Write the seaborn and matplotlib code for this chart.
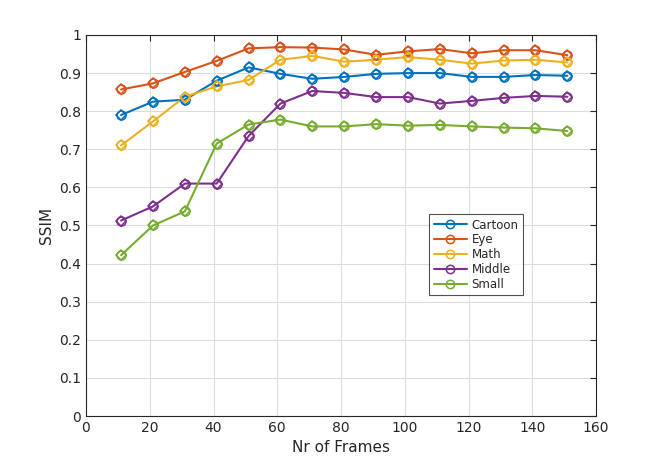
import matplotlib
matplotlib.use("Agg")
import matplotlib.pyplot as plt
import numpy as np
import pandas as pd
import seaborn as sns
from matplotlib.lines import Line2D

frames = [11, 21, 31, 41, 51, 61, 71, 81, 91, 101, 111, 121, 131, 141, 151]
cartoon = [0.79, 0.825, 0.83, 0.88, 0.915, 0.898, 0.885, 0.89, 0.898, 0.90, 0.90, 0.89, 0.89, 0.895, 0.893]
eye = [0.857, 0.873, 0.903, 0.932, 0.965, 0.968, 0.967, 0.962, 0.948, 0.957, 0.963, 0.952, 0.96, 0.96, 0.947]
math_ = [0.71, 0.773, 0.838, 0.865, 0.882, 0.935, 0.945, 0.93, 0.935, 0.942, 0.935, 0.925, 0.933, 0.935, 0.928]
middle = [0.513, 0.55, 0.61, 0.61, 0.735, 0.82, 0.853, 0.848, 0.837, 0.837, 0.82, 0.827, 0.835, 0.84, 0.838]
small = [0.422, 0.50, 0.537, 0.715, 0.765, 0.778, 0.76, 0.76, 0.766, 0.762, 0.764, 0.76, 0.757, 0.755, 0.748]

names = ["Cartoon", "Eye", "Math", "Middle", "Small"]
colors = ["#0072BD", "#D95319", "#EDB120", "#7E2F8E", "#77AC30"]

df = pd.DataFrame({"frames": frames * 5,
                   "ssim": cartoon + eye + math_ + middle + small,
                   "set": np.repeat(names, len(frames))})

sns.set_style("white")
plt.rcParams['font.family'] = ['DejaVu Sans']

fig = plt.figure(figsize=(6.59, 4.69), dpi=100)
ax = fig.add_axes([0.1305, 0.113, 0.774, 0.8124])

sns.lineplot(data=df, x="frames", y="ssim", hue="set", palette=colors,
             linewidth=1.5, ax=ax, legend=False)
# circle + diamond overlay (MATLAB-like combined marker)
for n, c in zip(names, colors):
    sub = df[df["set"] == n]
    ax.plot(sub["frames"], sub["ssim"], linestyle="none", marker="o", markersize=6.5,
            markerfacecolor="none", markeredgecolor=c, markeredgewidth=1.1)
    ax.plot(sub["frames"], sub["ssim"], linestyle="none", marker="D", markersize=5,
            markerfacecolor="none", markeredgecolor=c, markeredgewidth=1.1)

ax.set_xlim(0, 160)
ax.set_ylim(0, 1)
ax.set_xticks(np.arange(0, 161, 20))
ax.set_yticks(np.arange(0, 1.01, 0.1))
ax.set_yticklabels(["0", "0.1", "0.2", "0.3", "0.4", "0.5", "0.6", "0.7", "0.8", "0.9", "1"])
ax.grid(True, color="#dcdcdc", linewidth=0.8)
ax.tick_params(direction="in", length=4, labelsize=10, colors="#262626", top=True, right=True)
for s in ax.spines.values():
    s.set_color("#262626")
    s.set_linewidth(0.8)
ax.set_xlabel("Nr of Frames", fontsize=11, color="#262626")
ax.set_ylabel("SSIM", fontsize=11, color="#262626")

handles = [Line2D([0], [0], color=c, linewidth=1.5, marker="o", markersize=6,
                  markerfacecolor="none", markeredgewidth=1.1) for c in colors]
leg = ax.legend(handles, names, loc="upper left", bbox_to_anchor=(0.642, 0.5565),
                bbox_transform=fig.transFigure, fontsize=8.5, frameon=True, fancybox=False,
                edgecolor="#262626", handlelength=2.8, borderpad=0.4, labelspacing=0.15,
                handletextpad=0.4)
leg.get_frame().set_linewidth(0.8)

fig.savefig("out.png", dpi=100)
